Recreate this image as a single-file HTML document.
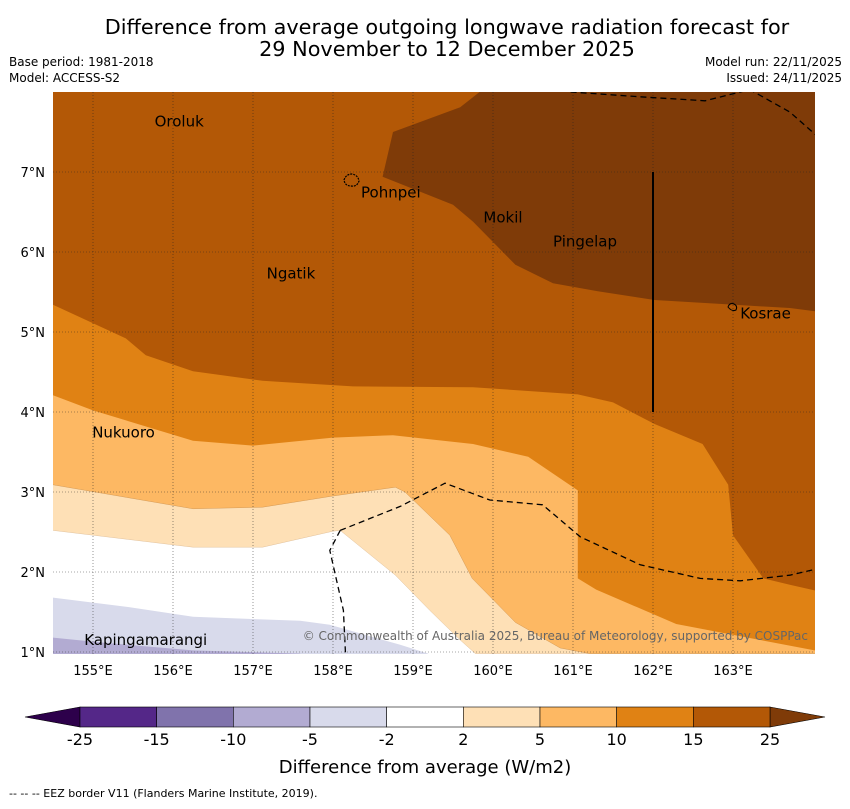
<!DOCTYPE html>
<html><head><meta charset="utf-8">
<style>
body{margin:0;background:#fff;font-family:"Liberation Sans","DejaVu Sans",sans-serif;}
svg text{font-family:"DejaVu Sans","Liberation Sans",sans-serif;}
</style></head>
<body>
<svg id="chart" width="850" height="804" viewBox="0 0 850 804" xmlns="http://www.w3.org/2000/svg">
<text x="447" y="34" font-size="20.8" text-anchor="middle">Difference from average outgoing longwave radiation forecast for</text>
<text x="447" y="56" font-size="20.8" text-anchor="middle">29 November to 12 December 2025</text>
<text x="9" y="66" font-size="12">Base period: 1981-2018</text>
<text x="9" y="82" font-size="12">Model: ACCESS-S2</text>
<text x="842" y="66" font-size="12" text-anchor="end">Model run: 22/11/2025</text>
<text x="842" y="82" font-size="12" text-anchor="end">Issued: 24/11/2025</text>
<defs><clipPath id="mapclip"><rect x="53" y="92" width="762" height="562"/></clipPath></defs>
<g id="map" clip-path="url(#mapclip)"></g>
<g id="overlay"></g>
<g id="cbar"></g>
<text x="425" y="773" font-size="18" text-anchor="middle">Difference from average (W/m2)</text>
<text x="9" y="797" font-size="11">--  --  -- EEZ border V11 (Flanders Marine Institute, 2019).</text>
</svg>
<script>
const lonTicks=[155,156,157,158,159,160,161,162,163];
const latTicks=[1,2,3,4,5,6,7];
const level2=[[154.5,2.52],[156.25,2.31],[157.12,2.31],[158.0,2.51],[158.09,2.52],[158.78,1.96],[159.21,1.52],[159.59,1.15],[159.78,0.98]];
const level5=[[154.5,3.09],[156.25,2.79],[157.12,2.81],[158.0,2.95],[158.78,3.06],[158.9,3.0],[159.46,2.46],[159.74,1.92],[160.28,1.37],[160.84,1.05],[161.21,0.98]];
const level10=[[154.5,4.21],[155,4.02],[156.25,3.64],[157,3.58],[158,3.68],[158.75,3.71],[159.75,3.6],[160.44,3.44],[161.06,3.02],[161.06,1.92],[161.29,1.78],[162.29,1.35],[163.34,1.15],[164.02,1.02]];
const level15=[[154.5,5.34],[155.41,4.92],[155.66,4.71],[156.25,4.51],[157.12,4.39],[158.25,4.32],[159.75,4.31],[161.06,4.22],[161.5,4.12],[162.02,3.85],[162.62,3.6],[162.94,3.09],[163,2.46],[163.38,1.92],[163.71,1.84],[164.02,1.77]];
const level25=[[159.96,8.1],[159.59,7.81],[158.75,7.5],[158.62,6.94],[159.5,6.59],[159.75,6.38],[160.28,5.84],[160.75,5.61],[161.31,5.51],[162.02,5.4],[163.02,5.34],[163.71,5.3],[164.1,5.25],[164.1,8.1]];
const levelM2=[[154.5,1.68],[155.46,1.56],[156.25,1.44],[157.59,1.39],[157.96,1.34],[158.84,1.09],[159.19,0.98]];
const levelM5=[[154.5,1.18],[155.09,1.12],[156.25,1.02],[157.59,0.98]];
const eezMain=[[158.09,2.52],[158.84,2.82],[159.4,3.11],[159.96,2.9],[160.62,2.84],[161.09,2.44],[161.84,2.09],[162.59,1.92],[163.09,1.89],[163.71,1.96],[164.1,2.05]];
const eezSouth=[[158.09,2.52],[157.96,2.27],[158.03,1.96],[158.13,1.52],[158.16,0.9]];
const eezNorth=[[160.97,8.0],[161.84,7.94],[162.65,7.89],[163.21,8.03],[163.71,7.75],[164.05,7.45]];
const places=["Oroluk","Pohnpei","Mokil","Pingelap","Ngatik","Kosrae","Nukuoro","Kapingamarangi"];
const placeLon=[155.77,158.35,159.88,160.75,157.17,163.09,154.99,154.89];
const placeLat=[7.57,6.68,6.37,6.07,5.67,5.17,3.68,1.09];
const cbarLabels=["-25","-15","-10","-5","-2","2","5","10","15","25"];
const cbarColors=["#542788","#8073ac","#b2abd2","#d8daeb","#ffffff","#fee0b6","#fdb863","#e08214","#b35806"];

const X=lon=>93+(lon-155)*80;
const Y=lat=>172-(lat-7)*80;
const NS="http://www.w3.org/2000/svg";
const map=document.getElementById('map'), ov=document.getElementById('overlay'), cb=document.getElementById('cbar');
function mk(tag,attrs,parent){const e=document.createElementNS(NS,tag);for(const k in attrs)e.setAttribute(k,attrs[k]);parent.appendChild(e);return e;}
function pts(a){return a.map(p=>X(p[0]).toFixed(1)+','+Y(p[1]).toFixed(1)).join(' ');}
function above(a){return pts([[a[0][0]-0.1,8.2]].concat([[a[0][0]-0.1,a[0][1]]],a,[[a[a.length-1][0]+0.1,a[a.length-1][1]],[164.2,a[a.length-1][1]],[164.2,8.2]]));}
function below(a){return pts([[154.3,0.8],[154.3,a[0][1]]].concat(a,[[a[a.length-1][0],0.8]]));}

let r=mk('rect',{x:53,y:92,width:762,height:562,fill:'#ffffff'},map);

let p;
p=mk('polygon',{points:below(levelM2),fill:'#d8daeb'},map);

p=mk('polygon',{points:below(levelM5),fill:'#b2abd2'},map);

p=mk('polygon',{points:above(level2),fill:'#fee0b6',stroke:'#d9b890','stroke-width':0.4},map);

p=mk('polygon',{points:above(level5),fill:'#fdb863',stroke:'#c98e4a','stroke-width':0.4},map);

p=mk('polygon',{points:above(level10),fill:'#e08214'},map);

p=mk('polygon',{points:above(level15),fill:'#b35806'},map);

p=mk('polygon',{points:pts(level25),fill:'#7f3b08'},map);


lonTicks.forEach(l=>{const g=mk('line',{x1:X(l),x2:X(l),y1:92,y2:654,stroke:'#222','stroke-width':0.6,'stroke-dasharray':'1,2',opacity:0.8},map);

const t=mk('text',{x:X(l),y:675,'font-size':13,'text-anchor':'middle'},ov);t.textContent=l+'°E';
});
latTicks.forEach(l=>{const g=mk('line',{x1:53,x2:815,y1:Y(l),y2:Y(l),stroke:'#222','stroke-width':0.6,'stroke-dasharray':'1,2',opacity:0.8},map);

const t=mk('text',{x:45,y:Y(l)+5,'font-size':13,'text-anchor':'end'},ov);t.textContent=l+'°N';
});

[eezMain,eezSouth,eezNorth].forEach(a=>{const e=mk('polyline',{points:pts(a),fill:'none',stroke:'#000','stroke-width':1.3,'stroke-dasharray':'6,4'},map);
});
let vl=mk('line',{x1:X(162),x2:X(162),y1:Y(7),y2:Y(4),stroke:'#000','stroke-width':2},map);

let isl=mk('path',{d:'M344,180 q2,-6 8,-6 q6,1 7,7 q-2,6 -8,5 q-6,0 -7,-6z',fill:'none',stroke:'#000','stroke-width':1.2,'stroke-dasharray':'2,1'},map);

isl=mk('path',{d:'M728,307 q2,-5 6,-3 q4,2 2,6 q-4,2 -8,-3z',fill:'none',stroke:'#000','stroke-width':1},map);


places.forEach((n,i)=>{const t=mk('text',{x:X(placeLon[i]),y:Y(placeLat[i]),'font-size':15},ov);t.textContent=n;

});
let cp=mk('text',{x:808,y:640,'font-size':12,'text-anchor':'end',fill:'#666'},ov);cp.textContent='© Commonwealth of Australia 2025, Bureau of Meteorology, supported by COSPPac';


const cx0=80,cw=690/9,cy=707,ch=20;
let tri=mk('polygon',{points:`${cx0},${cy} 25,${cy+ch/2} ${cx0},${cy+ch}`,fill:'#2d004b',stroke:'#000','stroke-width':0.6},cb);

tri=mk('polygon',{points:`770,${cy} 825,${cy+ch/2} 770,${cy+ch}`,fill:'#7f3b08',stroke:'#000','stroke-width':0.6},cb);

cbarColors.forEach((c,i)=>{const s=mk('rect',{x:cx0+i*cw,y:cy,width:cw,height:ch,fill:c,stroke:'#000','stroke-width':0.6},cb);
});
cbarLabels.forEach((l,i)=>{const t=mk('text',{x:cx0+i*cw,y:745,'font-size':16,'text-anchor':'middle'},cb);t.textContent=l;
});
</script>
</body></html>
